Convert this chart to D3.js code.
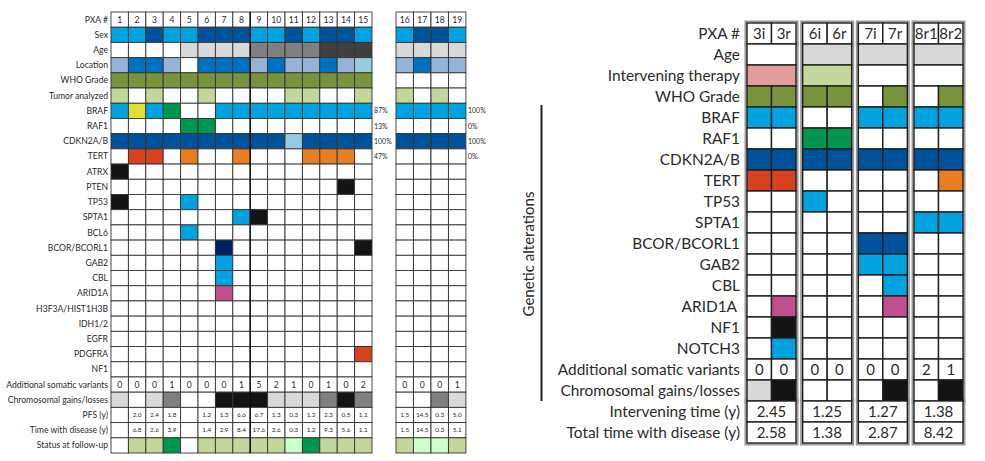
<!DOCTYPE html>
<html>
<head>
<meta charset="utf-8">
<script src="https://cdn.jsdelivr.net/npm/d3@7"></script>
<style>
  body { margin: 0; background: #fff; }
  text { font-family: Lato, 'Open Sans', sans-serif; fill: #2a2a2a; }
</style>
</head>
<body>
<svg width="985" height="461"></svg>
<script>
// Colour codes used in the cell arrays
var colors = {
  w: '#ffffff', b: '#00a3df', d: '#00529b', n: '#002060', m: '#0070c0', s: '#95b3d7', c: '#92cddc',
  l: '#d9d9d9', g: '#808080', a: '#404040', k: '#141414', o: '#77933c', e: '#c4d79b', v: '#ccffcc',
  G: '#00964f', y: '#e0e030', r: '#d8421f', O: '#e87d22', p: '#c0508d', P: '#e39c9c'
}

// ---- Left panel: cohort (patients 1-19)
var patients = ['1','2','3','4','5','6','7','8','9','10','11','12','13','14','15','16','17','18','19']
var sexCodes = ['b','b','d','b','b','d','d','d','b','b','d','b','d','d','b','b','d','d','b']
var ageCodes = ['w','w','w','w','l','l','l','l','g','g','g','g','a','a','a','l','l','l','l']
var locationCodes = ['s','m','m','s','w','m','m','m','s','m','s','s','m','s','c','s','m','s','s']
var whoCodes = ['o','o','o','o','o','o','o','o','o','o','o','o','o','o','o','w','w','w','w']
var tumorCodes = ['e','w','e','w','w','e','w','w','w','w','e','e','w','w','e','e','w','e','w']
var brafCodes = ['b','y','b','G','w','w','b','b','b','b','b','b','b','b','b','b','b','b','b']
var raf1Codes = ['w','w','w','w','G','G','w','w','w','w','w','w','w','w','w','w','w','w','w']
var cdknCodes = ['d','d','d','d','d','d','d','d','d','d','c','d','d','d','d','d','d','d','d']
var tertCodes = ['w','r','r','w','O','w','w','O','w','w','w','O','O','O','w','w','w','w','w']
// [gene, patient, colour]
var alterations = [
  ['ATRX','1','k'], ['PTEN','14','k'], ['TP53','1','k'], ['TP53','5','b'],
  ['SPTA1','8','b'], ['SPTA1','9','k'], ['BCL6','5','b'], ['BCOR/BCORL1','7','n'],
  ['BCOR/BCORL1','15','k'], ['GAB2','7','b'], ['CBL','7','b'], ['ARID1A','7','p'],
  ['PDGFRA','15','r']
]
var somaticCounts = [0,0,0,1,0,0,0,1,5,2,1,0,1,0,2,0,0,0,1]
var gainCodes = ['l','w','l','g','w','w','k','k','k','l','l','l','g','k','g','w','w','g','l']
var pfsYears = ['','2.0','2.4','1.8','','1.2','1.3','6.6','6.7','1.3','0.3','1.2','2.3','0.5','1.1','1.5','14.5','0.3','5.0']
var diseaseYears = ['','6.8','2.6','3.9','','1.4','2.9','8.4','17.6','3.6','0.3','1.2','9.3','5.6','1.1','1.5','14.5','0.3','5.1']
var followUpCodes = ['w','e','e','G','w','e','e','e','e','e','v','G','e','e','e','e','v','v','e']
var freqGenes = ['BRAF','RAF1','CDKN2A/B','TERT']
var freqA = ['87%','13%','100%','47%']
var freqB = ['100%','0%','100%','0%']

// ---- Right panel: paired samples
var pairs = ['3','6','7','8']
var samples = ['3i','3r','6i','6r','7i','7r','8r1','8r2']
var ageR = ['w','l','l','l']
var therapyR = ['P','e','w','w']
var whoR = ['o','o','o','o','w','o','w','o']
var brafR = ['b','b','w','w','b','b','b','b']
var cdknR = ['d','d','d','d','d','d','d','d']
var alterationsR = [
  ['RAF1','6i','G'], ['RAF1','6r','G'], ['TERT','3i','r'], ['TERT','3r','r'], ['TERT','8r2','O'],
  ['TP53','6i','b'], ['SPTA1','8r1','b'], ['SPTA1','8r2','b'], ['BCOR/BCORL1','7i','d'],
  ['BCOR/BCORL1','7r','d'], ['GAB2','7i','b'], ['GAB2','7r','b'], ['CBL','7r','b'],
  ['ARID1A','3r','p'], ['ARID1A','7r','p'], ['NF1','3r','k'], ['NOTCH3','3r','b']
]
var somaticR = [0,0,0,0,0,0,2,1]
var gainsR = ['l','k','w','w','w','k','w','k']
var interTime = ['2.45','1.25','1.27','1.38']
var totalTime = ['2.58','1.38','2.87','8.42']

var svg = d3.select('svg')

// ================= Left panel
var rowsL = ['PXA #','Sex','Age','Location','WHO Grade','Tumor analyzed','BRAF','RAF1','CDKN2A/B','TERT',
  'ATRX','PTEN','TP53','SPTA1','BCL6','BCOR/BCORL1','GAB2','CBL','ARID1A','H3F3A/HIST1H3B','IDH1/2',
  'EGFR','PDGFRA','NF1','Additional somatic variants','Chromosomal gains/losses','PFS  (y)',
  'Time with disease (y)','Status at follow-up']
var yL = d3.scaleBand().domain(rowsL).range([12, 453])
var xA = d3.scaleBand().domain(patients.slice(0, 15)).range([111, 372])
var xB = d3.scaleBand().domain(patients.slice(15)).range([396, 466])
function xL(p) { return +p <= 15 ? xA(p) : xB(p) }
var cw = xA.bandwidth(), rh = yL.bandwidth()

var rowCodes = { 'Sex': sexCodes, 'Age': ageCodes, 'Location': locationCodes, 'WHO Grade': whoCodes,
  'Tumor analyzed': tumorCodes, 'BRAF': brafCodes, 'RAF1': raf1Codes, 'CDKN2A/B': cdknCodes,
  'TERT': tertCodes, 'Chromosomal gains/losses': gainCodes, 'Status at follow-up': followUpCodes }
var cellsL = []
rowsL.forEach(function(r) {
  patients.forEach(function(p, i) {
    var code = rowCodes[r] ? rowCodes[r][i] : 'w'
    alterations.forEach(function(a) { if (a[0] === r && a[1] === p) code = a[2] })
    cellsL.push({ row: r, p: p, i: i, code: code })
  })
})

var gL = svg.append('g')
gL.selectAll('rect.cell')
  .data(cellsL)
  .enter()
  .append('rect')
  .attr('class', 'cell')
  .attr('x', function(d) { return xL(d.p) })
  .attr('y', function(d) { return yL(d.row) })
  .attr('width', cw)
  .attr('height', rh)
  .attr('fill', function(d) { return colors[d.code] })
  .attr('stroke', '#333')
  .attr('stroke-width', 0.9)

// darker separator between patients 8 and 9
gL.append('line')
  .attr('x1', xA('9')).attr('x2', xA('9'))
  .attr('y1', yL('PXA #')).attr('y2', yL('Status at follow-up') + rh)
  .attr('stroke', '#000').attr('stroke-width', 1.2)

gL.selectAll('text.rowlab')
  .data(rowsL)
  .enter()
  .append('text')
  .attr('class', 'rowlab')
  .attr('x', 108)
  .attr('y', function(d) { return yL(d) + rh / 2 })
  .attr('dy', '0.35em')
  .attr('text-anchor', 'end')
  .style('font-size', '8.6px')
  .text(function(d) { return d })

// cell texts
var textRowsL = [
  { row: 'PXA #', vals: patients, size: 8.6 },
  { row: 'Additional somatic variants', vals: somaticCounts, size: 8.6 },
  { row: 'PFS  (y)', vals: pfsYears, size: 6.4 },
  { row: 'Time with disease (y)', vals: diseaseYears, size: 6.4 }
]
textRowsL.forEach(function(t) {
  gL.selectAll(null)
    .data(t.vals)
    .enter()
    .append('text')
    .attr('x', function(d, i) { return xL(patients[i]) + cw / 2 })
    .attr('y', yL(t.row) + rh / 2)
    .attr('dy', '0.35em')
    .attr('text-anchor', 'middle')
    .style('font-size', t.size + 'px')
    .text(function(d) { return d })
})

// alteration frequencies
freqGenes.forEach(function(g, i) {
  gL.append('text').attr('x', 374).attr('y', yL(g) + rh / 2).attr('dy', '0.35em')
    .style('font-size', '7px').text(freqA[i])
  gL.append('text').attr('x', 468).attr('y', yL(g) + rh / 2).attr('dy', '0.35em')
    .style('font-size', '7px').text(freqB[i])
})

// ================= Right panel
var rowsR = ['PXA #','Age','Intervening therapy','WHO Grade','BRAF','RAF1','CDKN2A/B','TERT','TP53',
  'SPTA1','BCOR/BCORL1','GAB2','CBL','ARID1A','NF1','NOTCH3','Additional somatic variants',
  'Chromosomal gains/losses','Intervening time (y)','Total time with disease (y)']
var yR = d3.scaleBand().domain(rowsR).range([23, 443])
var xG = d3.scaleBand().domain(pairs).range([747, 963]).paddingInner(0.12)
var gw = xG.bandwidth(), sw = gw / 2, rr = yR.bandwidth()
function pairOf(s) { return s.charAt(0) }
function xS(s) { return xG(pairOf(s)) + (samples.indexOf(s) % 2) * sw }

var mergedRows = { 'Age': ageR, 'Intervening therapy': therapyR,
  'Intervening time (y)': interTime, 'Total time with disease (y)': totalTime }
var sampleRows = { 'WHO Grade': whoR, 'BRAF': brafR, 'CDKN2A/B': cdknR, 'Chromosomal gains/losses': gainsR }

var cellsR = []
rowsR.forEach(function(r) {
  if (mergedRows[r]) {
    pairs.forEach(function(p, i) {
      var v = mergedRows[r][i]
      cellsR.push({ row: r, x: xG(p), w: gw, code: colors[v] ? v : 'w' })
    })
  } else {
    samples.forEach(function(s, i) {
      var code = sampleRows[r] ? sampleRows[r][i] : 'w'
      alterationsR.forEach(function(a) { if (a[0] === r && a[1] === s) code = a[2] })
      cellsR.push({ row: r, x: xS(s), w: sw, code: code })
    })
  }
})

var gR = svg.append('g')

// block outlines (grey double-border look)
var blocks = [['PXA #', 'PXA #'], ['Age', 'Chromosomal gains/losses'], ['Intervening time (y)', 'Total time with disease (y)']]
pairs.forEach(function(p) {
  blocks.forEach(function(b) {
    gR.append('rect')
      .attr('x', xG(p) - 1.5).attr('y', yR(b[0]) - 1.5)
      .attr('width', gw + 3).attr('height', yR(b[1]) + rr - yR(b[0]) + 3)
      .attr('fill', 'none').attr('stroke', '#9a9a9a').attr('stroke-width', 2)
  })
})

gR.selectAll('rect.cell')
  .data(cellsR)
  .enter()
  .append('rect')
  .attr('class', 'cell')
  .attr('x', function(d) { return d.x })
  .attr('y', function(d) { return yR(d.row) })
  .attr('width', function(d) { return d.w })
  .attr('height', rr)
  .attr('fill', function(d) { return colors[d.code] })
  .attr('stroke', '#1e1e1e')
  .attr('stroke-width', 1.4)

gR.selectAll('text.rowlab')
  .data(rowsR)
  .enter()
  .append('text')
  .attr('class', 'rowlab')
  .attr('x', function(d) { return d === 'ARID1A' ? 737 : 740 })
  .attr('y', function(d) { return yR(d) + rr / 2 })
  .attr('dy', '0.35em')
  .attr('text-anchor', 'end')
  .style('font-size', '15.4px')
  .text(function(d) { return d })

// sample headers and per-sample numbers
var sampleTexts = [{ row: 'PXA #', vals: samples }, { row: 'Additional somatic variants', vals: somaticR }]
sampleTexts.forEach(function(t) {
  gR.selectAll(null)
    .data(t.vals)
    .enter()
    .append('text')
    .attr('x', function(d, i) { return xS(samples[i]) + sw / 2 })
    .attr('y', yR(t.row) + rr / 2)
    .attr('dy', '0.36em')
    .attr('text-anchor', 'middle')
    .style('font-size', '15px')
    .text(function(d) { return d })
})
;['Intervening time (y)', 'Total time with disease (y)'].forEach(function(r) {
  gR.selectAll(null)
    .data(mergedRows[r])
    .enter()
    .append('text')
    .attr('x', function(d, i) { return xG(pairs[i]) + gw / 2 })
    .attr('y', yR(r) + rr / 2)
    .attr('dy', '0.36em')
    .attr('text-anchor', 'middle')
    .style('font-size', '15px')
    .text(function(d) { return d })
})

// "Genetic alterations" bracket
gR.append('line')
  .attr('x1', 541.5).attr('x2', 541.5)
  .attr('y1', yR('BRAF') - 2).attr('y2', yR('Chromosomal gains/losses') + rr)
  .attr('stroke', '#222').attr('stroke-width', 2)
gR.append('text')
  .attr('transform', 'translate(534,254) rotate(-90)')
  .attr('text-anchor', 'middle')
  .style('font-size', '15px')
  .text('Genetic alterations')
</script>
</body>
</html>
